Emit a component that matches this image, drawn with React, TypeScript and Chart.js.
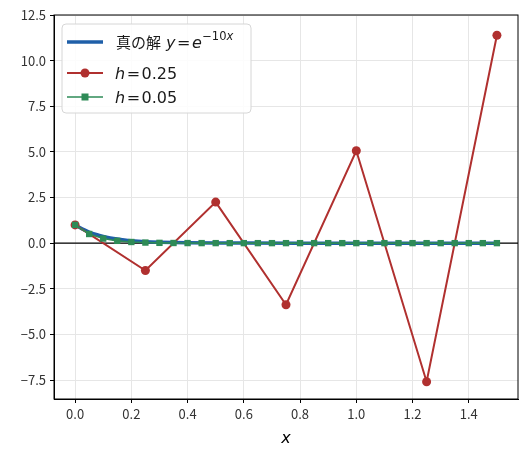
import { useEffect, useRef } from "react"
import { Chart, registerables } from "chart.js"

Chart.register(...registerables)

// true solution y = e^{-10x}, sampled
const exactX = [0, 0.025, 0.05, 0.075, 0.1, 0.125, 0.15, 0.175, 0.2, 0.25, 0.3, 0.35, 0.4, 0.5, 0.6, 0.8, 1.0, 1.25, 1.5]
const exactY = [1, 0.7788, 0.6065, 0.4724, 0.3679, 0.2865, 0.2231, 0.1738, 0.1353, 0.0821, 0.0498, 0.0302, 0.0183, 0.0067, 0.0025, 0.0003, 0.0, 0.0, 0.0]

// Euler, h = 0.25
const coarseX = [0, 0.25, 0.5, 0.75, 1.0, 1.25, 1.5]
const coarseY = [1, -1.5, 2.25, -3.375, 5.0625, -7.594, 11.39]

// Euler, h = 0.05
const fineX = [0, 0.05, 0.1, 0.15, 0.2, 0.25, 0.3, 0.35, 0.4, 0.45, 0.5, 0.55, 0.6, 0.65, 0.7, 0.75, 0.8, 0.85, 0.9, 0.95, 1.0, 1.05, 1.1, 1.15, 1.2, 1.25, 1.3, 1.35, 1.4, 1.45, 1.5]
const fineY = [1, 0.5, 0.25, 0.125, 0.0625, 0.0313, 0.0156, 0.0078, 0.0039, 0.002, 0.001, 0.0005, 0.0002, 0.0001, 0.0001, 0, 0, 0, 0, 0, 0, 0, 0, 0, 0, 0, 0, 0, 0, 0, 0]

const xTicks = [0, 0.2, 0.4, 0.6, 0.8, 1.0, 1.2, 1.4]
const yTicks = [-7.5, -5, -2.5, 0, 2.5, 5, 7.5, 10, 12.5]

const BLUE = "#1f5fa8"
const RED = "#b0302f"
const GREEN = "#2e8b57"
const TICK_FONT = "'Noto Sans CJK JP', 'DejaVu Sans', sans-serif"
const MATH_FONT = "'DejaVu Sans', sans-serif"

const pts = (xs: number[], ys: number[]) => xs.map((x, i) => ({ x, y: ys[i] }))

const framePlugin = {
  id: "frame",
  beforeDatasetsDraw(chart: Chart) {
    const { ctx, chartArea: a, scales } = chart
    const y0 = scales.y.getPixelForValue(0)
    ctx.save()
    ctx.strokeStyle = "#000"
    ctx.lineWidth = 1.2
    ctx.beginPath()
    ctx.moveTo(a.left, y0)
    ctx.lineTo(a.right, y0)
    ctx.stroke()
    ctx.restore()
  },
  afterDraw(chart: Chart) {
    const { ctx, chartArea: a } = chart
    ctx.save()
    ctx.strokeStyle = "#000"
    ctx.lineWidth = 1
    ctx.strokeRect(a.left, a.top, a.right - a.left, a.bottom - a.top)

    // legend box
    const bx = 62, by = 24, bw = 189, bh = 89, r = 4
    ctx.fillStyle = "rgba(255,255,255,0.85)"
    ctx.strokeStyle = "#d6d6d6"
    ctx.beginPath()
    ctx.roundRect(bx, by, bw, bh, r)
    ctx.fill()
    ctx.stroke()

    const rows = [42, 73, 97]
    const lx0 = 67, lx1 = 103

    // row 1: exact
    ctx.strokeStyle = BLUE
    ctx.lineWidth = 3.5
    ctx.beginPath()
    ctx.moveTo(lx0, rows[0])
    ctx.lineTo(lx1, rows[0])
    ctx.stroke()

    // row 2: h = 0.25
    ctx.strokeStyle = RED
    ctx.lineWidth = 2
    ctx.beginPath()
    ctx.moveTo(lx0, rows[1])
    ctx.lineTo(lx1, rows[1])
    ctx.stroke()
    ctx.fillStyle = RED
    ctx.beginPath()
    ctx.arc((lx0 + lx1) / 2, rows[1], 4.5, 0, Math.PI * 2)
    ctx.fill()

    // row 3: h = 0.05
    ctx.strokeStyle = GREEN
    ctx.lineWidth = 1.6
    ctx.beginPath()
    ctx.moveTo(lx0, rows[2])
    ctx.lineTo(lx1, rows[2])
    ctx.stroke()
    ctx.fillStyle = GREEN
    ctx.fillRect((lx0 + lx1) / 2 - 3.5, rows[2] - 3.5, 7, 7)

    // texts
    ctx.fillStyle = "#1a1a1a"
    ctx.textBaseline = "alphabetic"
    ctx.textAlign = "left"
    let x = 116
    let base = rows[0] + 6
    const part = (t: string, font: string, dy = 0, gap = 0) => {
      ctx.font = font
      ctx.fillText(t, x, base + dy)
      x += ctx.measureText(t).width + gap
    }
    part("真の解", `15px 'Noto Sans CJK JP'`, 0, 5)
    part("y", `italic 16px ${MATH_FONT}`, 0, 1.5)
    part("=", `16px ${MATH_FONT}`, 0, 1.5)
    part("e", `italic 16px ${MATH_FONT}`, 0, 0.5)
    part("−10", `11.5px ${MATH_FONT}`, -8)
    part("x", `italic 11.5px ${MATH_FONT}`, -8)

    const hRow = (label: string, row: number) => {
      x = 115
      base = row + 6
      part("h", `italic 16px ${MATH_FONT}`, 0, 1.5)
      part("=", `16px ${MATH_FONT}`, 0, 1.5)
      part(label, `16px ${MATH_FONT}`)
    }
    hRow("0.25", rows[1])
    hRow("0.05", rows[2])
    ctx.restore()
  },
}

export default function App() {
  const canvasRef = useRef<HTMLCanvasElement>(null)

  useEffect(() => {
    document.body.style.margin = "0"
    if (!canvasRef.current) return
    const chart = new Chart(canvasRef.current, {
      type: "line",
      data: {
        datasets: [
          {
            label: "真の解",
            data: pts(exactX, exactY),
            borderColor: BLUE,
            borderWidth: 3.5,
            pointRadius: 0,
            order: 2,
            cubicInterpolationMode: "monotone",
          },
          {
            label: "h = 0.25",
            data: pts(coarseX, coarseY),
            borderColor: RED,
            backgroundColor: RED,
            borderWidth: 2,
            pointRadius: 4.5,
            pointBorderWidth: 0,
            order: 1,
          },
          {
            label: "h = 0.05",
            data: pts(fineX, fineY),
            borderColor: GREEN,
            backgroundColor: GREEN,
            borderWidth: 1.6,
            pointStyle: "rect",
            pointRadius: 4.5,
            pointBorderWidth: 0,
            order: 0,
          },
        ],
      },
      options: {
        animation: false,
        responsive: false,
        maintainAspectRatio: false,
        layout: { padding: { left: 0, right: 9, top: 15, bottom: 0 } },
        plugins: { legend: { display: false }, tooltip: { enabled: false } },
        scales: {
          x: {
            type: "linear",
            min: -0.075,
            max: 1.575,
            afterBuildTicks: (s: any) => {
              s.ticks = xTicks.map((v) => ({ value: v }))
            },
            afterFit: (s: any) => {
              s.height = 56
            },
            grid: { color: "#e6e6e6", tickColor: "#000", tickLength: 4 },
            border: { color: "#000" },
            ticks: {
              color: "#333",
              font: { family: TICK_FONT, size: 13 },
              padding: 3,
              callback: (v: any) => Number(v).toFixed(1),
            },
            title: {
              display: true,
              text: "x",
              color: "#000",
              font: { family: MATH_FONT, size: 16, style: "italic" },
              padding: { top: 0, bottom: 7 },
            },
          },
          y: {
            type: "linear",
            min: -8.54,
            max: 12.5,
            afterBuildTicks: (s: any) => {
              s.ticks = yTicks.map((v) => ({ value: v }))
            },
            afterFit: (s: any) => {
              s.width = 54
            },
            grid: { color: "#e6e6e6", tickColor: "#000", tickLength: 4 },
            border: { color: "#000" },
            ticks: {
              color: "#333",
              font: { family: TICK_FONT, size: 13 },
              padding: 4,
              callback: (v: any) => Number(v).toFixed(1).replace("-", "−"),
            },
          },
        },
      },
      plugins: [framePlugin],
    })
    return () => chart.destroy()
  }, [])

  return <canvas ref={canvasRef} width={527} height={455} style={{ display: "block", width: 527, height: 455 }} />
}
